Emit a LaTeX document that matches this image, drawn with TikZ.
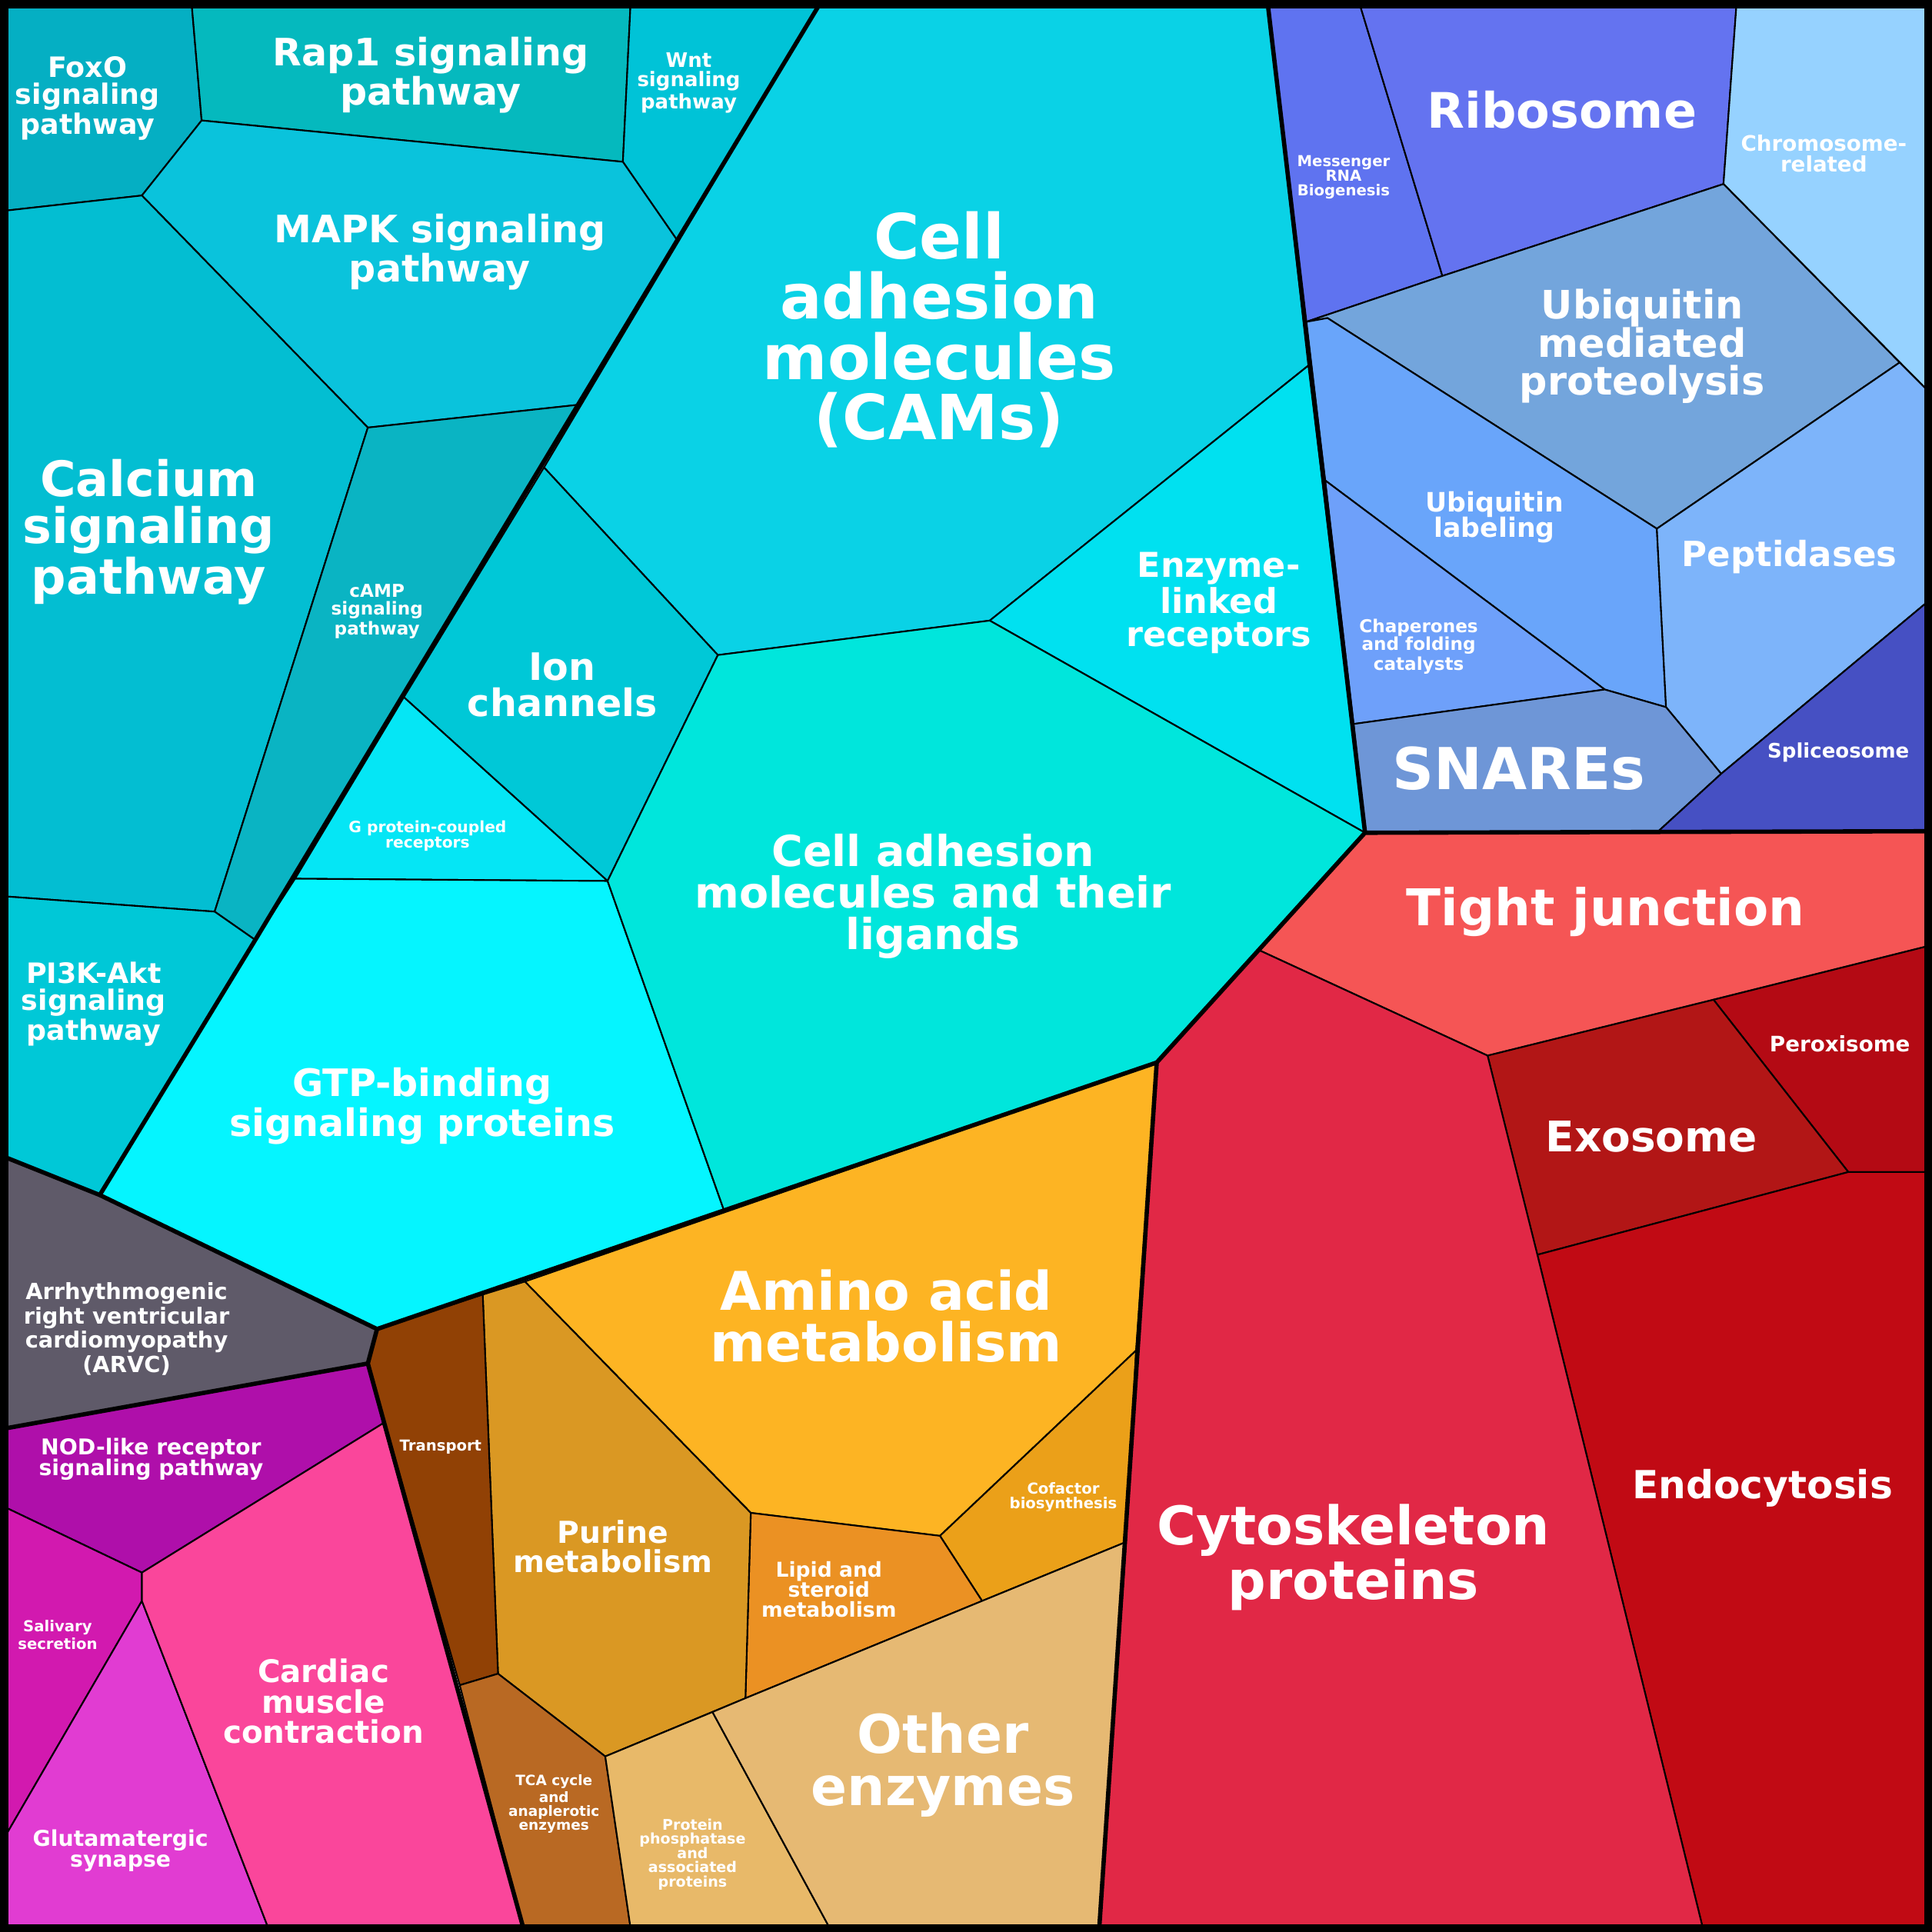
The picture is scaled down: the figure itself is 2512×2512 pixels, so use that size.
\documentclass[tikz,border=0pt]{standalone}
\usepackage{fontspec}
\setmainfont{DejaVu Sans}
\definecolor{cFoxo}{RGB}{5,175,195}
\definecolor{cRap}{RGB}{5,185,190}
\definecolor{cWnt}{RGB}{0,195,215}
\definecolor{cMapk}{RGB}{10,195,220}
\definecolor{cCalc}{RGB}{3,190,210}
\definecolor{cCamp}{RGB}{10,180,195}
\definecolor{cPi}{RGB}{0,200,215}
\definecolor{cCams}{RGB}{10,210,230}
\definecolor{cIon}{RGB}{0,200,215}
\definecolor{cGpc}{RGB}{5,230,245}
\definecolor{cGtp}{RGB}{5,245,255}
\definecolor{cEnz}{RGB}{0,225,240}
\definecolor{cLig}{RGB}{0,230,220}
\definecolor{cMrna}{RGB}{95,115,240}
\definecolor{cRibo}{RGB}{100,115,240}
\definecolor{cChrom}{RGB}{150,210,255}
\definecolor{cUbm}{RGB}{115,165,220}
\definecolor{cUbl}{RGB}{105,165,250}
\definecolor{cChap}{RGB}{110,160,250}
\definecolor{cPept}{RGB}{125,180,250}
\definecolor{cSnare}{RGB}{110,150,215}
\definecolor{cSplice}{RGB}{70,80,195}
\definecolor{cTight}{RGB}{245,85,85}
\definecolor{cPerox}{RGB}{180,10,20}
\definecolor{cExo}{RGB}{178,22,22}
\definecolor{cEndo}{RGB}{193,10,20}
\definecolor{cCyto}{RGB}{225,40,70}
\definecolor{cAmino}{RGB}{253,180,35}
\definecolor{cCofac}{RGB}{235,160,25}
\definecolor{cLipid}{RGB}{235,145,35}
\definecolor{cPurine}{RGB}{218,152,35}
\definecolor{cTrans}{RGB}{145,65,5}
\definecolor{cTca}{RGB}{185,105,35}
\definecolor{cPhos}{RGB}{232,185,105}
\definecolor{cOther}{RGB}{230,185,115}
\definecolor{cArvc}{RGB}{95,90,105}
\definecolor{cNod}{RGB}{175,15,170}
\definecolor{cSaliv}{RGB}{210,25,175}
\definecolor{cGlut}{RGB}{225,60,210}
\definecolor{cCard}{RGB}{250,70,155}
\begin{document}
\begin{tikzpicture}[x=0.01cm,y=-0.01cm]
    \tikzset{cell/.style = {draw=black, line width=0.6pt, line join=round}}
    \tikzset{group/.style = {draw=black, line width=1.6pt, line join=round}}
    \tikzset{lbl/.style = {text=white, align=center, inner sep=0pt,
        font=\bfseries\fontsize{\fpeval{#1*1.65}}{\fpeval{#1*1.6}}\selectfont}}

    % signaling cells
    \fill[cFoxo, cell] (0,0) -- (245,0) -- (258,152) -- (180,250) -- (0,270) -- cycle;
    \fill[cRap, cell] (245,0) -- (818,0) -- (808,206) -- (258,152) -- cycle;
    \fill[cWnt, cell] (818,0) -- (1065,0) -- (880,310) -- (808,206) -- cycle;
    \fill[cMapk, cell] (258,152) -- (808,206) -- (880,310) -- (752,523) -- (475,553) -- (180,250) -- cycle;
    \fill[cCalc, cell] (0,270) -- (180,250) -- (475,553) -- (275,1185) -- (0,1165) -- cycle;
    \fill[cCamp, cell] (475,553) -- (752,523) -- (328,1222) -- (275,1185) -- cycle;
    \fill[cPi, cell] (0,1165) -- (275,1185) -- (328,1222) -- (125,1555) -- (0,1505) -- cycle;

    % membrane cells
    \fill[cCams, cell] (1065,0) -- (1650,0) -- (1703,472) -- (1287,805) -- (932,850) -- (705,605) -- cycle;
    \fill[cIon, cell] (705,605) -- (932,850) -- (788,1145) -- (522,905) -- cycle;
    \fill[cGpc, cell] (522,905) -- (788,1145) -- (380,1142) -- cycle;
    \fill[cGtp, cell] (380,1142) -- (788,1145) -- (940,1575) -- (487,1730) -- (125,1555) -- (328,1222) -- cycle;
    \fill[cEnz, cell] (1703,472) -- (1777,1082) -- (1287,805) -- cycle;
    \fill[cLig, cell] (932,850) -- (1287,805) -- (1777,1082) -- (1505,1382) -- (940,1575) -- (788,1145) -- cycle;

    % genetic cells
    \fill[cMrna, cell] (1650,0) -- (1770,0) -- (1878,355) -- (1700,415) -- cycle;
    \fill[cRibo, cell] (1770,0) -- (2262,0) -- (2245,235) -- (1878,355) -- cycle;
    \fill[cChrom, cell] (2262,0) -- (2512,0) -- (2512,505) -- (2245,235) -- cycle;
    \fill[cUbm, cell] (1700,415) -- (1878,355) -- (2245,235) -- (2475,468) -- (2158,685) -- (1728,410) -- cycle;
    \fill[cUbl, cell] (1700,415) -- (1728,410) -- (2158,685) -- (2170,918) -- (2090,895) -- (1725,622) -- cycle;
    \fill[cChap, cell] (1725,622) -- (2090,895) -- (1762,940) -- cycle;
    \fill[cPept, cell] (2158,685) -- (2475,468) -- (2512,505) -- (2512,780) -- (2242,1005) -- (2170,918) -- cycle;
    \fill[cSnare, cell] (1762,940) -- (2090,895) -- (2170,918) -- (2242,1005) -- (2160,1080) -- (1777,1082) -- cycle;
    \fill[cSplice, cell] (2242,1005) -- (2512,780) -- (2512,1080) -- (2160,1080) -- cycle;

    % cellular cells
    \fill[cTight, cell] (1777,1082) -- (2512,1080) -- (2512,1230) -- (2232,1300) -- (1937,1373) -- (1638,1235) -- cycle;
    \fill[cPerox, cell] (2232,1300) -- (2512,1230) -- (2512,1525) -- (2408,1525) -- cycle;
    \fill[cExo, cell] (1937,1373) -- (2232,1300) -- (2408,1525) -- (2002,1633) -- cycle;
    \fill[cEndo, cell] (2002,1633) -- (2408,1525) -- (2512,1525) -- (2512,2512) -- (2218,2512) -- cycle;
    \fill[cCyto, cell] (1505,1382) -- (1638,1235) -- (1937,1373) -- (2002,1633) -- (2218,2512) -- (1430,2512) -- cycle;

    % metabolism cells
    \fill[cAmino, cell] (680,1668) -- (1505,1382) -- (1478,1758) -- (1222,2000) -- (975,1970) -- cycle;
    \fill[cCofac, cell] (1478,1758) -- (1465,2008) -- (1277,2085) -- (1222,2000) -- cycle;
    \fill[cLipid, cell] (975,1970) -- (1222,2000) -- (1277,2085) -- (968,2212) -- cycle;
    \fill[cPurine, cell] (625,1685) -- (680,1668) -- (975,1970) -- (968,2212) -- (785,2288) -- (645,2180) -- cycle;
    \fill[cTrans, cell] (487,1730) -- (625,1685) -- (645,2180) -- (595,2195) -- (475,1775) -- cycle;
    \fill[cTca, cell] (595,2195) -- (645,2180) -- (785,2288) -- (818,2512) -- (678,2512) -- cycle;
    \fill[cPhos, cell] (785,2288) -- (925,2230) -- (1078,2512) -- (818,2512) -- cycle;
    \fill[cOther, cell] (925,2230) -- (968,2212) -- (1277,2085) -- (1465,2008) -- (1430,2512) -- (1078,2512) -- cycle;

    % organismal cells
    \fill[cArvc, cell] (0,1505) -- (125,1555) -- (487,1730) -- (475,1775) -- (0,1860) -- cycle;
    \fill[cNod, cell] (0,1860) -- (475,1775) -- (495,1853) -- (180,2048) -- (0,1962) -- cycle;
    \fill[cSaliv, cell] (0,1962) -- (180,2048) -- (180,2085) -- (0,2395) -- cycle;
    \fill[cGlut, cell] (180,2085) -- (345,2512) -- (0,2512) -- (0,2395) -- cycle;
    \fill[cCard, cell] (180,2048) -- (495,1853) -- (678,2512) -- (345,2512) -- (180,2085) -- cycle;

    % group borders
    \draw[group] (1065,0) -- (328,1222) -- (125,1555);
    \draw[group] (0,1505) -- (125,1555) -- (487,1730) -- (1505,1382) -- (1777,1082) -- (2512,1080);
    \draw[group] (1650,0) -- (1777,1082);
    \draw[group] (1505,1382) -- (1430,2512);
    \draw[group] (487,1730) -- (475,1775) -- (678,2512);
    \draw[group] (475,1775) -- (0,1860);
    \draw[line width=3pt] (0,0) rectangle (2512,2512);

    % labels
    \node[lbl=6.3] (foxo) at (109,123) {FoxO\\signaling\\pathway};
    \node[lbl=8.5] (rap) at (557,93) {Rap1 signaling\\pathway};
    \node[lbl=4.5] (wnt) at (894,103) {Wnt\\signaling\\pathway};
    \node[lbl=8.5] (mapk) at (569,324) {MAPK signaling\\pathway};
    \node[lbl=11] (calc) at (189,689) {Calcium\\signaling\\pathway};
    \node[lbl=4] (camp) at (487,793) {cAMP\\signaling\\pathway};
    \node[lbl=6.3] (pi) at (117,1306) {PI3K-Akt\\signaling\\pathway};
    \node[lbl=14] (cams) at (1221,425) {Cell\\adhesion\\molecules\\(CAMs)};
    \node[lbl=8.5] (ion) at (729,889) {Ion\\channels};
    \node[lbl=3.5] (gpc) at (553,1086) {G protein-coupled\\receptors};
    \node[lbl=8.5] (gtp) at (546,1439) {GTP-binding\\signaling proteins};
    \node[lbl=7.7] (enz) at (1586,782) {Enzyme-\\linked\\receptors};
    \node[lbl=9.6] (lig) at (1213,1165) {Cell adhesion\\molecules and their\\ligands};
    \node[lbl=3.4] (mrna) at (1749,226) {Messenger\\RNA\\Biogenesis};
    \node[lbl=11] (ribo) at (2034,138) {Ribosome};
    \node[lbl=4.8] (chrom) at (2376,195) {Chromosome-\\related};
    \node[lbl=8.8] (ubm) at (2139,447) {Ubiquitin\\mediated\\proteolysis};
    \node[lbl=6] (ubl) at (1946,670) {Ubiquitin\\labeling};
    \node[lbl=4] (chap) at (1847,839) {Chaperones\\and folding\\catalysts};
    \node[lbl=7.8] (pept) at (2331,722) {Peptidases};
    \node[lbl=13] (snare) at (1978,998) {SNAREs};
    \node[lbl=4.5] (splice) at (2395,977) {Spliceosome};
    \node[lbl=11.4] (tight) at (2091,1185) {Tight junction};
    \node[lbl=4.8] (perox) at (2397,1358) {Peroxisome};
    \node[lbl=9.5] (exo) at (2151,1479) {Exosome};
    \node[lbl=8.7] (endo) at (2296,1938) {Endocytosis};
    \node[lbl=12] (cyto) at (1762,2028) {Cytoskeleton\\proteins};
    \node[lbl=12] (amino) at (1152,1713) {Amino acid\\metabolism};
    \node[lbl=3.4] (cofac) at (1383,1950) {Cofactor\\biosynthesis};
    \node[lbl=4.6] (lipid) at (1077,2070) {Lipid and\\steroid\\metabolism};
    \node[lbl=6.8] (purine) at (795,2014) {Purine\\metabolism};
    \node[lbl=3.4] (trans) at (570,1884) {Transport};
    \node[lbl=3.2] (tca) at (718,2350) {TCA cycle\\and\\anaplerotic\\enzymes};
    \node[lbl=3.3] (phos) at (899,2416) {Protein\\phosphatase\\and\\associated\\proteins};
    \node[lbl=12] (other) at (1226,2299) {Other\\enzymes};
    \node[lbl=5] (arvc) at (160,1730) {Arrhythmogenic\\right ventricular\\cardiomyopathy\\(ARVC)};
    \node[lbl=4.9] (nod) at (192,1900) {NOD-like receptor\\signaling pathway};
    \node[lbl=3.4] (saliv) at (70,2129) {Salivary\\secretion};
    \node[lbl=4.9] (glut) at (152,2411) {Glutamatergic\\synapse};
    \node[lbl=7] (card) at (417,2216) {Cardiac\\muscle\\contraction};
\end{tikzpicture}
\end{document}
